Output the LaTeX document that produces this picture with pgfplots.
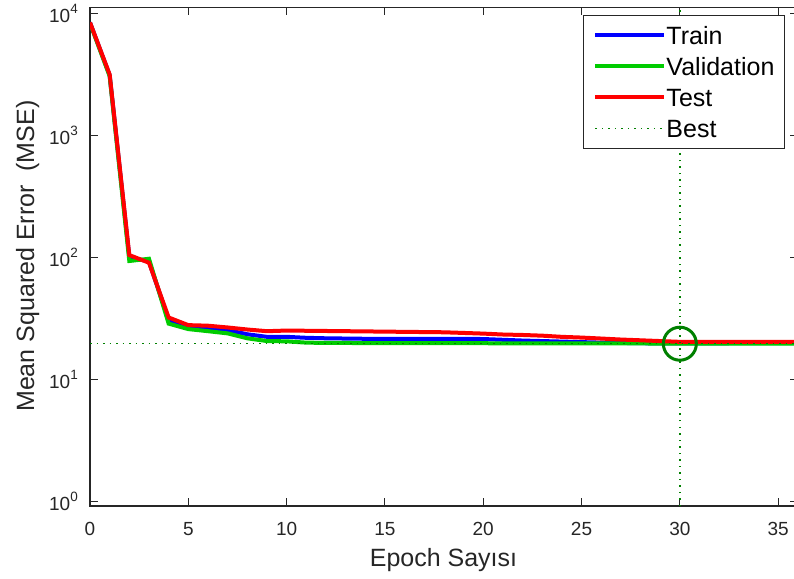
\documentclass[border=0pt]{standalone}
\usepackage{fontspec}
\setmainfont{Liberation Sans}
\usepackage{pgfplots}
\pgfplotsset{compat=1.18}
\definecolor{mtrain}{rgb}{0,0,1}
\definecolor{mval}{rgb}{0,0.8,0}
\definecolor{mtest}{rgb}{1,0,0}
\definecolor{mbest}{rgb}{0,0.5,0}
\definecolor{axgray}{rgb}{0.15,0.15,0.15}
\newcommand{\tp}[1]{10\raisebox{9pt}{\fontsize{13.5}{13.5}\selectfont #1}}
\begin{document}
\begin{tikzpicture}[x=1pt,y=1pt]
\path[use as bounding box] (0,0) rectangle (794,578);
\clip (0,0) rectangle (794,578);
\begin{axis}[
  at={(90pt,72pt)}, anchor=south west,
  scale only axis, width=707.8pt, height=498.7pt,
  ymode=log, log basis y=10,
  xmin=0, xmax=36, ymin=0.91, ymax=11200,
  xtick={0,5,10,15,20,25,30,35},
  xticklabels={0,5,10,15,20,25,30,35},
  ytick={1,10,100,1000,10000},
  yticklabels={\tp{0},\tp{1},\tp{2},\tp{3},\tp{4}},
  tick align=inside,
  major tick length=8pt, minor tick length=5pt,
  every tick/.style={axgray, line width=1pt},
  axis line style={axgray, line width=1.2pt},
  tick label style={font=\fontsize{19}{19}\selectfont, text=axgray},
  xticklabel style={anchor=base, inner sep=0pt, yshift=-29pt},
  yticklabel style={anchor=east, inner sep=0pt, xshift=-12pt},
  xlabel={Epoch Sayısı},
  ylabel={Mean Squared Error~ (MSE)},
  label style={font=\fontsize{25}{25}\selectfont, text=axgray},
  xlabel style={at={(axis description cs:0.4994,-0.1223)}, anchor=base, inner sep=0pt},
  ylabel style={at={(axis description cs:-0.0791,0.501)}, anchor=base, inner sep=0pt},
  legend style={at={(rel axis cs:0.6965,0.9846)}, anchor=north west,
    draw=axgray, line width=1pt, fill=white,
    inner xsep=10pt, inner ysep=7.5pt,
    font=\fontsize{25}{25}\selectfont,
    nodes={inner sep=0pt, text height=22pt, text depth=3pt},
    row sep=6pt,
    /tikz/every even column/.append style={column sep=5pt}},
  legend cell align=left,
  legend image code/.code={\draw[#1] (0pt,0pt) -- (69pt,0pt);},
]
\addplot[mtrain, line width=4pt] coordinates {
(0,8400) (1,3100) (2,100) (3,92) (4,30.5) (5,26.5) (6,26) (7,25.2) (8,23.3) (9,22.2)
(10,22.2) (11,21.8) (12,21.6) (13,21.5) (14,21.4) (15,21.4) (16,21.4) (17,21.4) (18,21.4) (19,21.4)
(20,21.3) (21,21.0) (22,20.7) (23,20.5) (24,20.3) (25,20.1) (26,19.9) (27,19.8) (28,19.7) (29,19.6)
(30,19.6) (31,19.65) (32,19.65) (33,19.7) (34,19.7) (35,19.7) (36,19.7)};
\addlegendentry{Train}
\addplot[mval, line width=4pt] coordinates {
(0,8300) (1,3050) (2,93) (3,97) (4,28.5) (5,25.7) (6,24.7) (7,23.7) (8,21.6) (9,20.5)
(10,20.4) (11,19.9) (12,19.8) (13,19.8) (14,19.7) (15,19.7) (16,19.7) (17,19.7) (18,19.7) (19,19.7)
(20,19.7) (21,19.6) (22,19.6) (23,19.6) (24,19.6) (25,19.6) (26,19.6) (27,19.6) (28,19.6) (29,19.55)
(30,19.5) (31,19.5) (32,19.5) (33,19.5) (34,19.55) (35,19.55) (36,19.55)};
\addlegendentry{Validation}
\addplot[mtest, line width=4pt] coordinates {
(0,8400) (1,3150) (2,104) (3,90) (4,32) (5,27.7) (6,27.4) (7,26.5) (8,25.5) (9,24.7)
(10,25.0) (11,24.9) (12,24.8) (13,24.7) (14,24.6) (15,24.5) (16,24.4) (17,24.3) (18,24.2) (19,23.9)
(20,23.6) (21,23.2) (22,23.0) (23,22.7) (24,22.2) (25,21.9) (26,21.5) (27,21.1) (28,20.8) (29,20.5)
(30,20.2) (31,20.2) (32,20.2) (33,20.2) (34,20.2) (35,20.2) (36,20.2)};
\addlegendentry{Test}
\addplot[mbest, line width=1.5pt, dash pattern=on 1.5pt off 5pt] coordinates {(0,19.5) (36,19.5)};
\addlegendentry{Best}
\addplot[mbest, line width=1.5pt, dash pattern=on 1.5pt off 5pt, forget plot] coordinates {(30,0.91) (30,11200)};
\addplot[mbest, only marks, mark=o, mark size=16.5pt, line width=3pt, forget plot] coordinates {(30,19.5)};
\end{axis}
\end{tikzpicture}
\end{document}
